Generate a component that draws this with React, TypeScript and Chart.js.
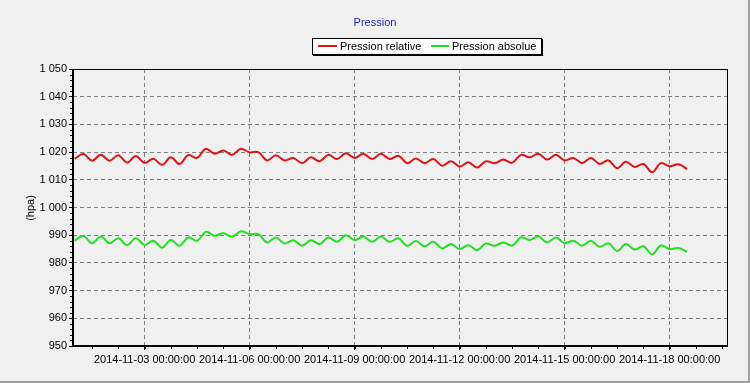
import { useEffect, useRef } from "react";
import { Chart, registerables } from "chart.js";

Chart.register(...registerables);

const chartTitle = "Pression";
const yAxisTitle = "(hpa)";
const seriesNames = ["Pression relative", "Pression absolue"];
const seriesColors = ["#dc1414", "#1ee21e"];

// one reading every 6 hours, starting 2014-11-01 00:00
const startTime = "2014-11-01T00:00:00Z";
const stepHours = 6;

const relative = [
  1017.6, 1019.3, 1016.9, 1019.0, 1016.9, 1018.9, 1016.2, 1018.6, 1016.1, 1017.6,
  1015.4, 1018.1, 1015.7, 1018.9, 1017.9, 1021.2, 1019.4, 1020.6, 1019.0, 1021.2,
  1019.9, 1020.0, 1017.0, 1018.9, 1017.0, 1017.9, 1016.0, 1018.1, 1016.7, 1019.0,
  1017.5, 1019.6, 1017.9, 1019.4, 1017.5, 1019.4, 1017.5, 1018.7, 1016.0, 1017.7,
  1016.0, 1017.5, 1015.1, 1016.7, 1014.8, 1016.3, 1014.4, 1016.7, 1016.0, 1017.3,
  1016.1, 1019.0, 1018.1, 1019.4, 1017.3, 1019.0, 1017.0, 1017.9, 1016.0, 1017.9,
  1015.7, 1017.0, 1014.2, 1016.5, 1014.6, 1015.7, 1012.7, 1016.0, 1014.9, 1015.6,
  1013.9,
];

const absolute = [
  988.0, 989.8, 987.1, 989.5, 987.1, 988.9, 986.4, 988.9, 986.5, 988.0,
  985.5, 988.3, 986.2, 989.2, 988.0, 991.2, 989.8, 990.7, 989.4, 991.4,
  990.4, 990.4, 987.4, 989.2, 987.0, 988.2, 986.2, 988.2, 986.8, 989.2,
  987.6, 990.0, 988.2, 989.5, 987.6, 989.5, 987.6, 988.9, 986.2, 987.9,
  986.0, 987.6, 985.2, 986.8, 985.0, 986.4, 984.6, 987.0, 986.2, 987.4,
  986.2, 989.2, 988.3, 989.5, 987.4, 989.2, 987.1, 988.0, 986.2, 988.0,
  985.8, 987.1, 984.3, 986.8, 984.8, 986.0, 983.1, 986.3, 985.0, 985.4,
  984.0,
];

const xTickDates = [
  "2014-11-03T00:00:00Z",
  "2014-11-06T00:00:00Z",
  "2014-11-09T00:00:00Z",
  "2014-11-12T00:00:00Z",
  "2014-11-15T00:00:00Z",
  "2014-11-18T00:00:00Z",
];
const axisStart = "2014-10-31T22:55:00Z";
const axisEnd = "2014-11-19T15:20:00Z";
const minorXStepHours = 18;

const yMin = 950;
const yMax = 1050;
const yStep = 10;
const yMinorStep = 2;

const FONT = '"Liberation Sans", Arial, sans-serif';

function pad(n: number) {
  return n < 10 ? "0" + n : String(n);
}
function fmtDate(ms: number) {
  const d = new Date(ms);
  return (
    d.getUTCFullYear() + "-" + pad(d.getUTCMonth() + 1) + "-" + pad(d.getUTCDate()) +
    " " + pad(d.getUTCHours()) + ":" + pad(d.getUTCMinutes()) + ":" + pad(d.getUTCSeconds())
  );
}
function fmtNum(v: number) {
  return String(v).replace(/\B(?=(\d{3})+(?!\d))/g, " ");
}

const decor = {
  id: "decor",
  beforeDraw(chart: any) {
    const { ctx, width, height } = chart;
    ctx.save();
    ctx.fillStyle = "#f0f0f0";
    ctx.fillRect(0, 0, width, height);

    // title
    ctx.font = "11px " + FONT;
    ctx.fillStyle = "#2424bc";
    ctx.textAlign = "center";
    ctx.textBaseline = "middle";
    ctx.fillText(chartTitle, 375, 23);

    // legend box
    ctx.fillStyle = "#ffffff";
    ctx.fillRect(312, 38, 230, 17);
    ctx.strokeStyle = "#000000";
    ctx.lineWidth = 1;
    ctx.strokeRect(312.5, 38.5, 229, 16);
    ctx.fillStyle = "#000000";
    ctx.fillRect(542, 39, 1, 17);
    ctx.fillRect(313, 55, 230, 1);

    ctx.textAlign = "left";
    ctx.fillStyle = seriesColors[0];
    ctx.fillRect(318, 45, 19, 2);
    ctx.fillStyle = "#000";
    ctx.fillText(seriesNames[0], 340, 47);
    ctx.fillStyle = seriesColors[1];
    ctx.fillRect(431, 45, 18, 2);
    ctx.fillStyle = "#000";
    ctx.fillText(seriesNames[1], 452, 47);

    // y axis title
    ctx.save();
    ctx.translate(31, 208);
    ctx.rotate(-Math.PI / 2);
    ctx.textAlign = "center";
    ctx.fillText(yAxisTitle, 0, 0);
    ctx.restore();

    ctx.restore();
  },
  afterDraw(chart: any) {
    const { ctx, chartArea, width, height } = chart;
    const xs = chart.scales.x;
    const ys = chart.scales.y;
    const l = Math.round(chartArea.left);
    const r = Math.round(chartArea.right);
    const t = Math.round(chartArea.top);
    const b = Math.round(chartArea.bottom);
    ctx.save();
    ctx.fillStyle = "#000";
    // frame
    ctx.fillRect(l - 1, t, 2, b - t + 1);
    ctx.fillRect(l - 1, b - 1, r - l + 2, 2);
    ctx.fillRect(l - 1, t, r - l + 2, 1);
    ctx.fillRect(r, t, 1, b - t + 1);
    // y minor ticks
    for (let v = yMin; v <= yMax; v += yMinorStep) {
      if (v % yStep === 0) continue;
      const y = Math.round(ys.getPixelForValue(v));
      ctx.fillRect(l - 3, y, 2, 1);
    }
    // x minor ticks
    const ref = Date.parse(xTickDates[0]);
    const step = minorXStepHours * 3600000;
    const x0 = Date.parse(axisStart);
    const x1 = Date.parse(axisEnd);
    let m = ref;
    while (m - step >= x0) m -= step;
    for (; m <= x1; m += step) {
      const x = Math.round(xs.getPixelForValue(m));
      ctx.fillRect(x, b + 1, 1, 2);
    }
    // outer panel border
    ctx.fillStyle = "#a0a0a0";
    ctx.fillRect(width - 2, 0, 2, height);
    ctx.fillRect(0, height - 2, width, 2);
    ctx.restore();
  },
};

export default function App() {
  const ref = useRef<HTMLCanvasElement | null>(null);
  useEffect(() => {
    if (!ref.current) return;
    const t0 = Date.parse(startTime);
    const toPoints = (arr: number[]) =>
      arr.map((v, i) => ({ x: t0 + i * stepHours * 3600000, y: v }));
    const tickFont = { family: FONT, size: 11 };
    const chart = new Chart(ref.current, {
      type: "line",
      data: {
        datasets: [
          {
            label: seriesNames[0],
            data: toPoints(relative),
            borderColor: seriesColors[0],
            borderWidth: 2,
            pointRadius: 0,
            tension: 0.35,
            fill: false,
          },
          {
            label: seriesNames[1],
            data: toPoints(absolute),
            borderColor: seriesColors[1],
            borderWidth: 2,
            pointRadius: 0,
            tension: 0.35,
            fill: false,
          },
        ],
      },
      options: {
        animation: false,
        responsive: false,
        devicePixelRatio: 1,
        events: [],
        layout: { padding: { top: 69, right: 23, left: 0, bottom: 0 } },
        plugins: {
          legend: { display: false },
          title: { display: false },
          tooltip: { enabled: false },
        },
        scales: {
          x: {
            type: "linear",
            min: Date.parse(axisStart),
            max: Date.parse(axisEnd),
            afterBuildTicks: (scale: any) => {
              scale.ticks = xTickDates.map((d) => ({ value: Date.parse(d) }));
            },
            afterFit: (scale: any) => {
              scale.height = 37;
            },
            ticks: {
              autoSkip: false,
              maxRotation: 0,
              minRotation: 0,
              padding: 3,
              color: "#000",
              font: tickFont,
              callback: (v: any) => fmtDate(Number(v)),
            },
            grid: {
              color: "#808080",
              lineWidth: 1,
              borderDash: [4, 3],
              drawTicks: true,
              tickLength: 4,
              tickColor: "#000",
              tickBorderDash: [],
              tickWidth: 1,
            } as any,
            border: { display: false, dash: [4, 3] },
          },
          y: {
            type: "linear",
            min: yMin,
            max: yMax,
            afterFit: (scale: any) => {
              scale.width = 73;
            },
            ticks: {
              stepSize: yStep,
              padding: 2,
              color: "#000",
              font: tickFont,
              callback: (v: any) => fmtNum(Number(v)),
            },
            grid: {
              color: "#808080",
              lineWidth: 1,
              borderDash: [4, 3],
              drawTicks: true,
              tickLength: 4,
              tickColor: "#000",
              tickBorderDash: [],
              tickWidth: 1,
            } as any,
            border: { display: false, dash: [4, 3] },
          },
        },
      },
      plugins: [decor],
    } as any);
    return () => chart.destroy();
  }, []);
  return (
    <div style={{ position: "absolute", left: 0, top: 0, width: 750, height: 383 }}>
      <canvas ref={ref} width={750} height={383} style={{ display: "block" }} />
    </div>
  );
}
